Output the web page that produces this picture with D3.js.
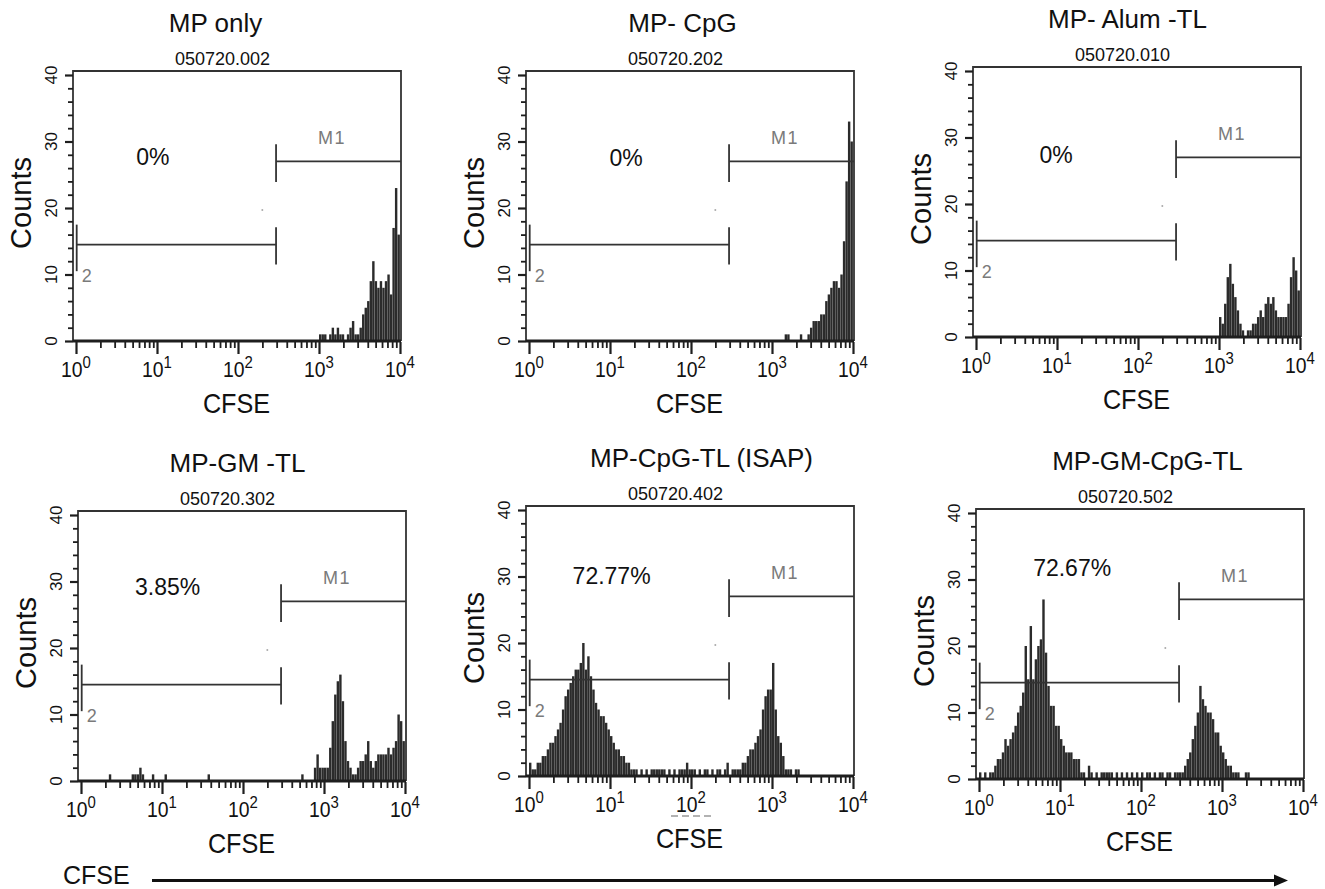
<!DOCTYPE html>
<html>
<head>
<meta charset="utf-8">
<script src="https://cdn.jsdelivr.net/npm/d3@7"></script>
<style>
	body{margin:0;background:#fff;}
	svg{display:block;font-family:"Liberation Sans",Arial,Helvetica,sans-serif;}
</style>
</head>
<body>
<svg id="chart" width="1325" height="889"></svg>
<script>
// ---- data (32 channels per decade, one row per decade) ----
const panelTitles = ["MP only", "MP- CpG", "MP- Alum -TL", "MP-GM -TL", "MP-CpG-TL (ISAP)", "MP-GM-CpG-TL"];
const sampleIds   = ["050720.002", "050720.202", "050720.010", "050720.302", "050720.402", "050720.502"];
const m2Percent   = ["0%", "0%", "0%", "3.85%", "72.77%", "72.67%"];
const xDecades    = [1, 10, 100, 1000, 10000];
const yTicks      = [0, 10, 20, 30, 40];
const gateM1      = [295, 10000];
const gateM2      = [1.02, 295];
const gateM1Level = 27;
const gateM2Level = 14.5;
const binsPerDecade = 32;

const countsMPonly = [
	0,0,0,0,0,0,0,0,0,0,0,0,0,0,0,0,0,0,0,0,0,0,0,0,0,0,0,0,0,0,0,0,
	0,0,0,0,0,0,0,0,0,0,0,0,0,0,0,0,0,0,0,0,0,0,0,0,0,0,0,0,0,0,0,0,
	0,0,0,0,0,0,0,0,0,0,0,0,0,0,0,0,0,0,0,0,0,0,0,0,0,0,0,0,0,0,0,0,
	1,1,1,0,1,2,1,2,1,1,0,1,2,3,1,1,2,4,5,6,9,12,9,8,9,8,9,10,7,17,23,16
];
const countsCpG = [
	0,0,0,0,0,0,0,0,0,0,0,0,0,0,0,0,0,0,0,0,0,0,0,0,0,0,0,0,0,0,0,0,
	0,0,0,0,0,0,0,0,0,0,0,0,0,0,0,0,0,0,0,0,0,0,0,0,0,0,0,0,0,0,0,0,
	0,0,0,0,0,0,0,0,0,0,0,0,0,0,0,0,0,0,0,0,0,0,0,0,0,0,0,0,0,0,0,0,
	0,0,0,0,0,1,1,0,0,0,0,1,0,0,1,2,3,3,3,4,4,6,7,8,9,9,8,10,15,24,33,30
];
const countsAlumTL = [
	0,0,0,0,0,0,0,0,0,0,0,0,0,0,0,0,0,0,0,0,0,0,0,0,0,0,0,0,0,0,0,0,
	0,0,0,0,0,0,0,0,0,0,0,0,0,0,0,0,0,0,0,0,0,0,0,0,0,0,0,0,0,0,0,0,
	0,0,0,0,0,0,0,0,0,0,0,0,0,0,0,0,0,0,0,0,0,0,0,0,0,0,0,0,0,0,0,0,
	3,2,5,9,11,8,6,4,2,1,0,1,1,2,2,3,4,3,5,6,5,6,4,3,3,3,3,5,9,12,10,7
];
const countsGMTL = [
	0,0,0,0,0,0,0,0,0,0,0,1,0,0,0,0,0,0,0,0,1,1,1,2,1,0,0,0,1,0,0,0,
	0,1,0,0,0,0,0,0,0,0,0,0,0,0,0,0,0,0,1,0,0,0,0,0,0,0,0,0,0,0,0,0,
	0,0,0,0,0,0,0,0,0,0,0,0,0,0,0,0,0,0,0,0,0,0,0,1,0,0,0,0,2,4,2,2,
	2,2,5,9,13,15,16,12,6,3,2,1,1,2,3,3,4,6,3,2,3,4,4,4,4,5,4,5,6,10,9,6
];
const countsCpGTL = [
	2,1,1,2,2,3,3,4,5,5,6,7,8,10,12,13,14,15,16,16,17,20,16,18,15,13,11,10,9,9,8,7,
	6,5,4,4,3,3,2,2,1,1,1,0,1,0,1,0,1,1,1,1,1,1,0,1,0,1,0,1,1,1,2,1,
	1,1,0,1,0,1,1,0,1,0,1,1,0,1,2,0,1,1,1,1,2,2,3,4,4,5,6,7,10,12,13,13,
	17,10,6,5,3,1,1,1,0,1,1,0,0,0,0,0,0,0,0,0,0,0,0,0,0,0,0,0,0,0,0,0
];
const countsGMCpGTL = [
	1,0,1,0,1,1,2,3,3,4,6,5,6,7,8,10,11,13,20,15,23,15,18,20,21,27,19,14,11,11,8,8,
	6,5,4,4,4,3,3,3,1,1,0,2,1,0,1,0,1,1,1,1,1,0,1,0,1,0,1,0,1,0,1,0,
	1,0,1,1,0,1,0,1,1,0,1,1,0,1,1,1,1,2,3,4,6,8,10,14,12,11,10,10,9,7,7,5,
	4,3,2,2,1,1,1,0,0,1,1,0,0,0,0,0,0,0,0,0,0,0,0,0,0,0,0,0,0,0,0,0
];
const panelCounts = [countsMPonly, countsCpG, countsAlumTL, countsGMTL, countsCpGTL, countsGMCpGTL];

// ---- layout (pixels) ----
const plotW = 325, plotH = 266;
const panelOrigins = [[76,341],[529,341],[976,337],[81,781],[529,776],[979,779]];	// position of (10^0, 0)
const titleDx = [-23, -9, -11, -6, 10, 6];
const pctPos = [[0.95,26.4],[1.2,26.3],[0.99,26.1],[1.07,28.0],[1.02,28.8],[1.15,30.6]];	// [decades, counts]

class FacsPanel{
	/*
		One CFSE histogram with its frame, log axis, M1/M2 gates and labels
	*/
	constructor(svg, idx){
		this.idx = idx;
		this.counts = panelCounts[idx];
		this.x0 = panelOrigins[idx][0];
		this.y0 = panelOrigins[idx][1];
		this.x = d3.scaleLog().domain([1, 10000]).range([this.x0, this.x0 + plotW - 1]);
		this.y = d3.scaleLinear().domain([0, 40]).range([this.y0, this.y0 - plotH]);
		this.boxLeft = this.x0 - 3;
		this.boxRight = this.x0 + plotW;
		this.boxTop = this.y0 - plotH - 4;
		this.g = svg.append("g").attr("class", "panel");

		this._drawHistogram();
		this._drawFrame();
		this._drawAxes();
		this._drawGates();
		this._drawLabels();
	}
	_drawHistogram(){
		var that = this;
		var bins = this.counts.map(function(c, i){
			return {lo: Math.pow(10, i / binsPerDecade), hi: Math.pow(10, (i + 1) / binsPerDecade), c: c};
		}).filter(function(d){ return d.c > 0; });

		this.g.append("g").selectAll("rect")
			.data(bins)
			.enter().append("rect")
			.attr("x", function(d){ return that.x(d.lo); })
			.attr("width", function(d){ return Math.max(1, that.x(d.hi) - that.x(d.lo) - 0.12); })
			.attr("y", function(d){ return that.y(d.c); })
			.attr("height", function(d){ return that.y(0) - that.y(d.c); })
			.attr("fill", "#2b2b2b");
	}
	_drawFrame(){
		this.g.append("path")
			.attr("d", "M" + this.boxLeft + "," + this.y0 + "V" + this.boxTop + "H" + this.boxRight + "V" + this.y0)
			.attr("fill", "none")
			.attr("stroke", "#333")
			.attr("stroke-width", 1.8);
		this.g.append("line")
			.attr("x1", this.boxLeft).attr("x2", this.boxRight)
			.attr("y1", this.y0).attr("y2", this.y0)
			.attr("stroke", "#1e1e1e")
			.attr("stroke-width", 2.8);
	}
	_drawAxes(){
		var minorX = [];
		xDecades.slice(0, 4).forEach(function(d){
			for (var k = 2; k <= 9; k++) minorX.push(k * d);
		});
		var minorY = d3.range(2, 40, 2).filter(function(v){ return v % 10 !== 0; });

		var xAxisG = this.g.append("g").attr("transform", "translate(0," + (this.y0 + 1) + ")");
		xAxisG.append("g").attr("class", "major").call(d3.axisBottom(this.x).tickValues(xDecades).tickSize(12).tickFormat(""));
		xAxisG.append("g").call(d3.axisBottom(this.x).tickValues(minorX).tickSize(6).tickFormat(""));

		var yAxisG = this.g.append("g").attr("transform", "translate(" + this.boxLeft + ",0)");
		yAxisG.append("g").attr("class", "major").call(d3.axisLeft(this.y).tickValues(yTicks).tickSize(8).tickFormat(""));
		yAxisG.append("g").call(d3.axisLeft(this.y).tickValues(minorY).tickSize(5).tickFormat(""));

		this.g.selectAll(".domain").remove();
		this.g.selectAll(".tick line").attr("stroke", "#1e1e1e").attr("stroke-width", 1.8);
		this.g.selectAll(".major .tick line").attr("stroke-width", 2.2);

		var that = this;
		// 10^n labels, slightly narrow like the original print
		this.g.selectAll("text.xlab")
			.data(xDecades)
			.enter().append("text")
			.attr("class", "xlab")
			.attr("transform", function(d){ return "translate(" + that.x(d) + "," + (that.y0 + 36) + ") scale(0.88,1)"; })
			.attr("text-anchor", "middle")
			.style("font-size", "22px")
			.attr("fill", "#111")
			.each(function(d){
				var t = d3.select(this);
				t.append("tspan").text("10");
				t.append("tspan").attr("dy", -9).style("font-size", "17px").text(Math.round(Math.log10(d)));
			});

		this.g.selectAll("text.ylab")
			.data(yTicks)
			.enter().append("text")
			.attr("class", "ylab")
			.attr("transform", function(d){ return "translate(" + (that.x0 - 19) + "," + that.y(d) + ") rotate(-90)"; })
			.attr("text-anchor", "middle")
			.style("font-size", "17px")
			.attr("fill", "#111")
			.text(function(d){ return d; });
	}
	_drawGates(){
		var x = this.x, y = this.y, g = this.g;
		var line = function(x1, y1, x2, y2){
			g.append("line")
				.attr("x1", x1).attr("y1", y1).attr("x2", x2).attr("y2", y2)
				.attr("stroke", "#333").attr("stroke-width", 1.8);
		};
		// M1
		line(x(gateM1[0]), y(gateM1Level), this.boxRight, y(gateM1Level));
		line(x(gateM1[0]), y(23.9), x(gateM1[0]), y(29.6));
		// M2
		line(x(gateM2[0]), y(gateM2Level), x(gateM2[1]), y(gateM2Level));
		line(x(gateM2[0]), y(10.5), x(gateM2[0]), y(17.5));
		line(x(gateM2[1]), y(11.5), x(gateM2[1]), y(17.1));

		g.append("text")
			.attr("x", x(Math.pow(10, 3.16))).attr("y", y(29.6))
			.attr("text-anchor", "middle")
			.style("font-size", "18px").style("letter-spacing", "1.5px")
			.attr("fill", "#7a7a7a")
			.text("M1");
		g.append("text")
			.attr("x", x(Math.pow(10, 0.07))).attr("y", y(8.8))
			.style("font-size", "18px")
			.attr("fill", "#7a7a7a")
			.text("2");
		g.append("circle")
			.attr("cx", x(Math.pow(10, 2.3))).attr("cy", y(19.7))
			.attr("r", 1).attr("fill", "#aaa");
	}
	_drawLabels(){
		var midX = (this.x0 + this.x0 + plotW) / 2;
		var midY = this.y0 - plotH / 2;
		var p = pctPos[this.idx];

		this.g.append("text")
			.attr("x", midX + titleDx[this.idx]).attr("y", this.boxTop - 39)
			.attr("text-anchor", "middle")
			.style("font-size", "26px").attr("fill", "#111")
			.text(panelTitles[this.idx]);
		this.g.append("text")
			.attr("x", midX - 16).attr("y", this.boxTop - 6.5)
			.attr("text-anchor", "middle")
			.style("font-size", "18px").attr("fill", "#111")
			.text(sampleIds[this.idx]);
		this.g.append("text")
			.attr("transform", "translate(" + (this.x0 - 45) + "," + (midY - 5) + ") rotate(-90)")
			.attr("text-anchor", "middle")
			.style("font-size", "29px").attr("fill", "#111")
			.text("Counts");
		this.g.append("text")
			.attr("transform", "translate(" + (midX - 2) + "," + (this.y0 + 72) + ") scale(0.9,1)")
			.attr("text-anchor", "middle")
			.style("font-size", "28px").attr("fill", "#111")
			.text("CFSE");
		this.g.append("text")
			.attr("x", this.x(Math.pow(10, p[0]))).attr("y", this.y(p[1]))
			.attr("text-anchor", "middle")
			.style("font-size", "23px").attr("fill", "#111")
			.text(m2Percent[this.idx]);
	}
}

var svg = d3.select("#chart");
svg.append("rect").attr("width", 1325).attr("height", 889).attr("fill", "#fff");

var panels = panelTitles.map(function(t, i){ return new FacsPanel(svg, i); });

// faint dashed scan mark under 10^2 of the ISAP panel
var isap = panels[4];
svg.append("line")
	.attr("x1", isap.x(100) - 20).attr("x2", isap.x(100) + 22)
	.attr("y1", isap.y0 + 40).attr("y2", isap.y0 + 40)
	.attr("stroke", "#999").attr("stroke-width", 1.5)
	.attr("stroke-dasharray", "7,4");

// direction arrow along the bottom
svg.append("text")
	.attr("x", 63).attr("y", 884)
	.style("font-size", "25px").attr("fill", "#111")
	.text("CFSE");
svg.append("line")
	.attr("x1", 152).attr("x2", 1276)
	.attr("y1", 880.5).attr("y2", 880.5)
	.attr("stroke", "#111").attr("stroke-width", 3.2);
svg.append("path")
	.attr("d", "M1274,874.5L1288,880.5L1274,886.5Z")
	.attr("fill", "#111");
</script>
</body>
</html>
